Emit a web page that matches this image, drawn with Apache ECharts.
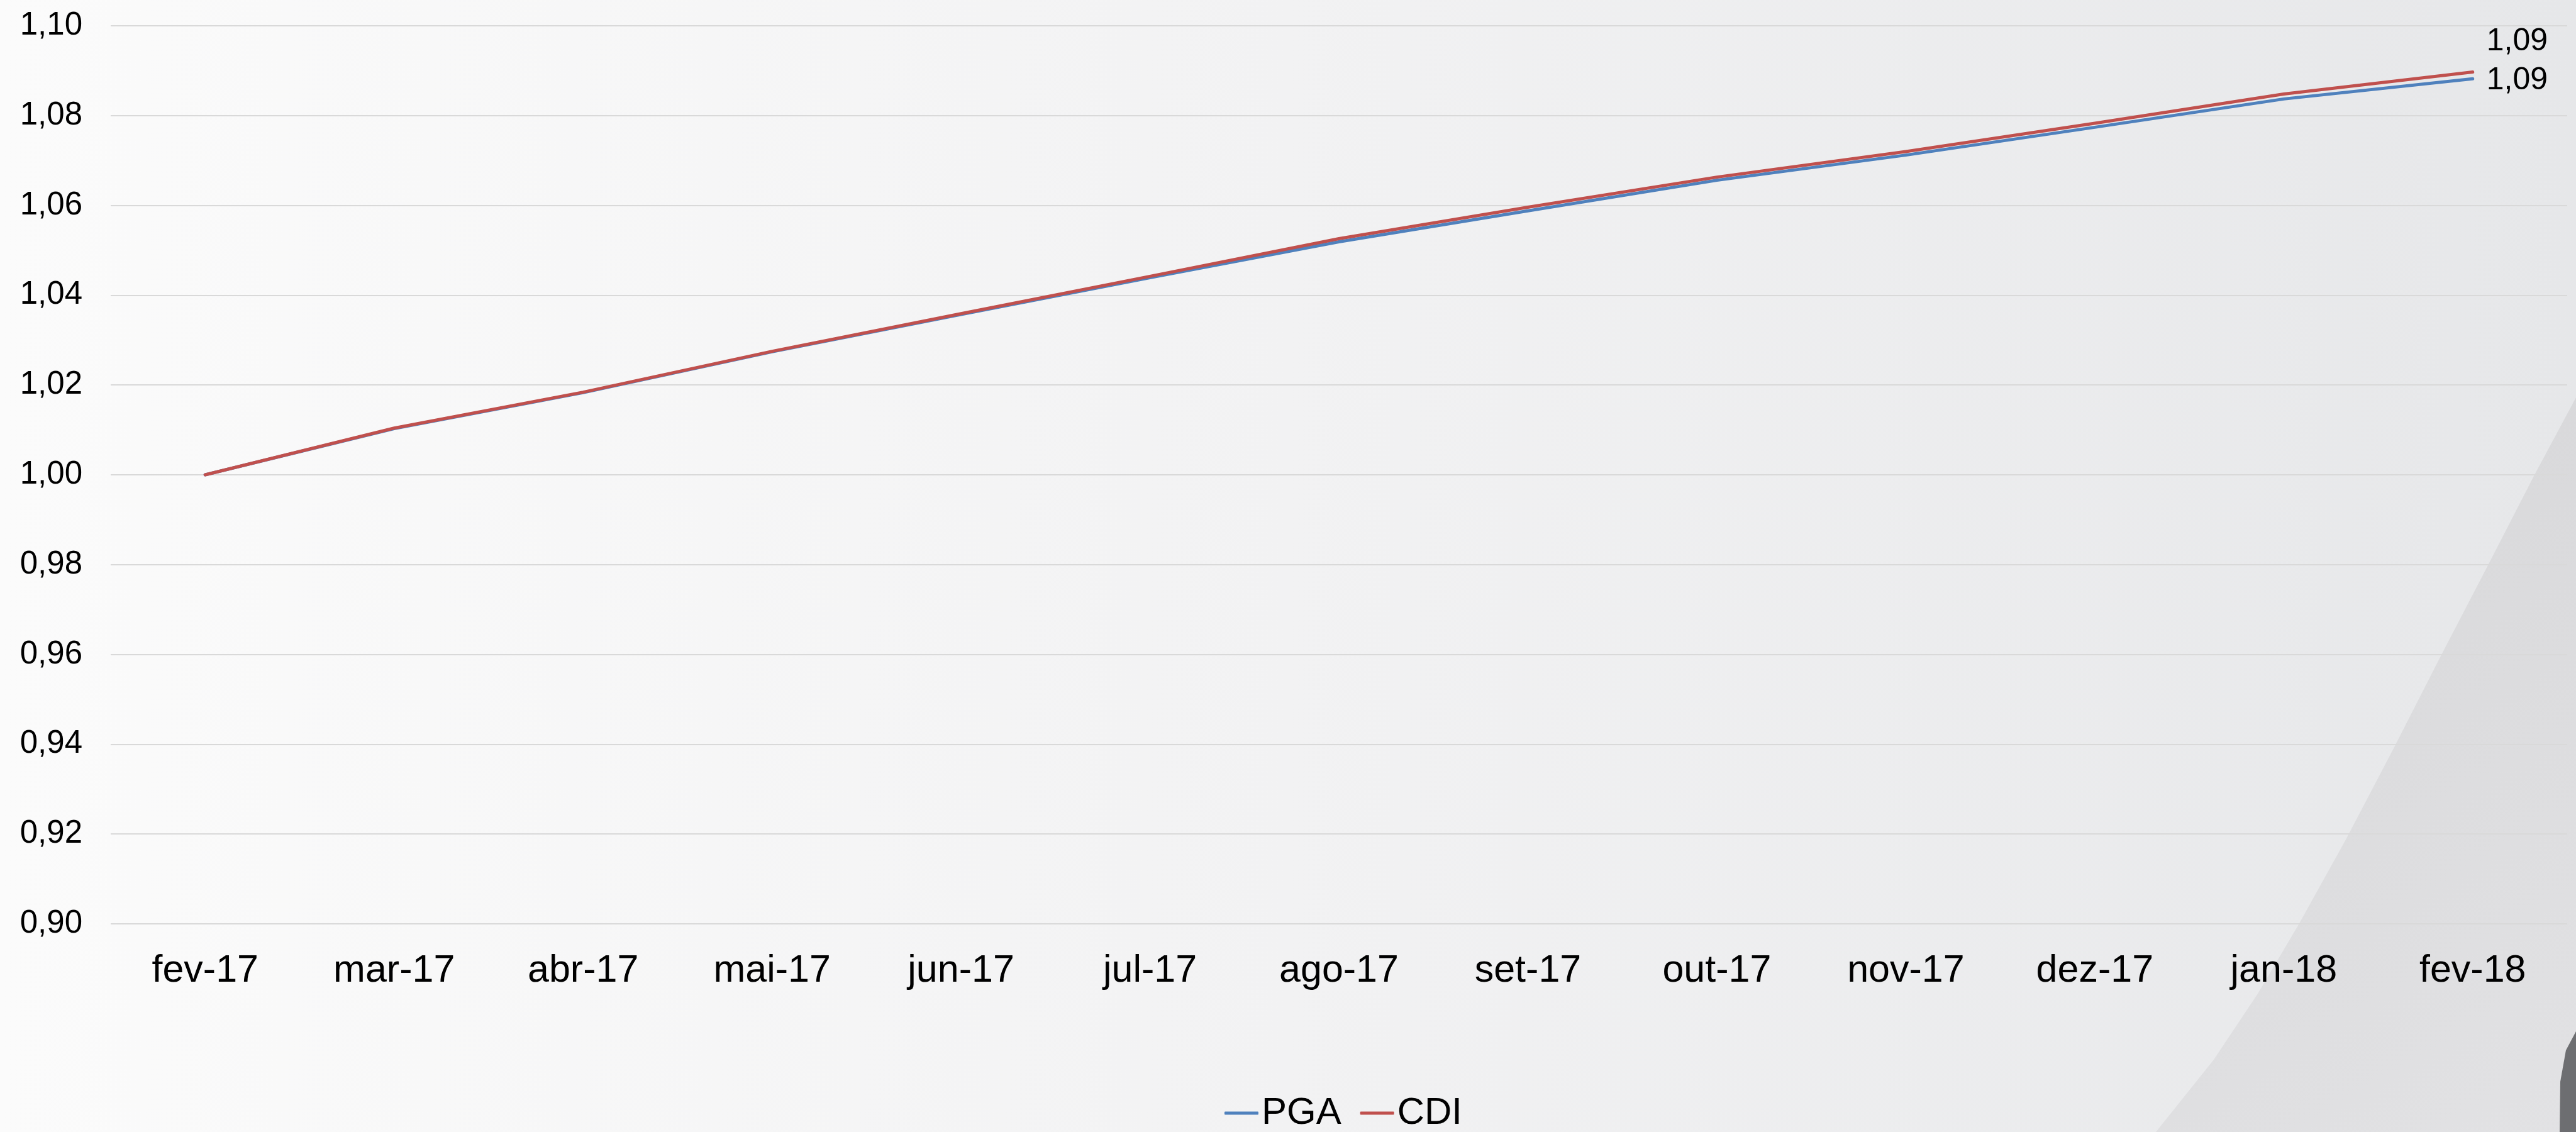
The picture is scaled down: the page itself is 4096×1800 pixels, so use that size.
<!DOCTYPE html>
<html>
<head>
<meta charset="utf-8">
<script src="https://cdn.jsdelivr.net/npm/echarts@6/dist/echarts.min.js"></script>
<style>
  html, body { margin: 0; padding: 0; }
  #chart { width: 4096px; height: 1800px; }
</style>
</head>
<body>
<div id="chart"></div>
<script>
const months = ['fev-17', 'mar-17', 'abr-17', 'mai-17', 'jun-17', 'jul-17', 'ago-17',
  'set-17', 'out-17', 'nov-17', 'dez-17', 'jan-18', 'fev-18']
const pga = [1.0000, 1.0103, 1.0183, 1.0274, 1.0357, 1.0439, 1.0519,
  1.0588, 1.0656, 1.0712, 1.0774, 1.0837, 1.0882]
const cdi = [1.0000, 1.0104, 1.0184, 1.0275, 1.0359, 1.0442, 1.0526,
  1.0596, 1.0663, 1.0720, 1.0783, 1.0848, 1.0897]
const yMin = 0.90, yMax = 1.10, yStep = 0.02

const font = '"Liberation Sans", Arial, sans-serif'
const fmt = v => Number(Array.isArray(v) ? v[1] : v).toFixed(2).replace('.', ',')

const chart = echarts.init(document.getElementById('chart'))

const option = {
  animation: false,
  // slide background + decoration
  graphic: [{
    type: 'rect', z: -10, silent: true,
    shape: { x: 0, y: 0, width: 4096, height: 1800 },
    style: {
      fill: {
        type: 'linear', x: 0, y: 0, x2: 1, y2: 0,
        colorStops: [
          { offset: 0, color: '#fbfbfb' },
          { offset: 0.5, color: '#f2f2f3' },
          { offset: 1, color: '#e6e7e9' }
        ]
      }
    }
  }, {
    type: 'polygon', z: -9, silent: true,
    shape: {
      points: [[4096, 632], [4030, 755], [3958, 895], [3880, 1045], [3806, 1190],
        [3730, 1335], [3655, 1470], [3590, 1580], [3520, 1685], [3428, 1800], [4096, 1800]]
    },
    style: {
      fill: {
        type: 'linear', x: 0, y: 0, x2: 1, y2: 1,
        colorStops: [
          { offset: 0, color: '#d6d6d8' },
          { offset: 1, color: '#e2e2e4' }
        ]
      }
    }
  }, {
    type: 'polygon', z: -8, silent: true,
    shape: { points: [[4096, 1640], [4080, 1670], [4071, 1720], [4070, 1800], [4096, 1800]] },
    style: { fill: '#6d6e71' }
  }],
  grid: {
    left: 176,
    right: 14,
    top: 41,
    bottom: 331
  },
  legend: {
    left: 1942,
    top: 1735,
    icon: 'roundRect',
    itemWidth: 54,
    itemHeight: 5,
    itemGap: 30,
    textStyle: { fontSize: 60, color: '#000', fontFamily: font, lineHeight: 60 },
    data: ['PGA', 'CDI']
  },
  xAxis: {
    type: 'category',
    data: months,
    boundaryGap: true,
    axisLine: { show: false },
    axisTick: { show: false },
    axisLabel: { fontSize: 61, color: '#000', fontFamily: font, margin: 45, interval: 0 }
  },
  yAxis: {
    type: 'value',
    min: yMin,
    max: yMax,
    interval: yStep,
    axisLine: { show: false },
    axisTick: { show: false },
    axisLabel: { fontSize: 51, color: '#000', fontFamily: font, margin: 45, formatter: v => fmt(v) },
    splitLine: { lineStyle: { color: '#d9d9d9', width: 2 } }
  },
  series: [{
    name: 'PGA',
    type: 'line',
    data: pga,
    symbol: 'none',
    color: '#4f81bd',
    lineStyle: { width: 5, cap: 'round', join: 'round' },
    endLabel: {
      show: true,
      formatter: p => fmt(p.value),
      fontSize: 50, color: '#000', fontFamily: font,
      distance: 22, offset: [0, 3]
    }
  }, {
    name: 'CDI',
    type: 'line',
    data: cdi,
    symbol: 'none',
    color: '#c0504d',
    lineStyle: { width: 5, cap: 'round', join: 'round' },
    endLabel: {
      show: true,
      formatter: p => fmt(p.value),
      fontSize: 50, color: '#000', fontFamily: font,
      distance: 22, offset: [0, -48]
    }
  }]
}

chart.setOption(option)
</script>
</body>
</html>
